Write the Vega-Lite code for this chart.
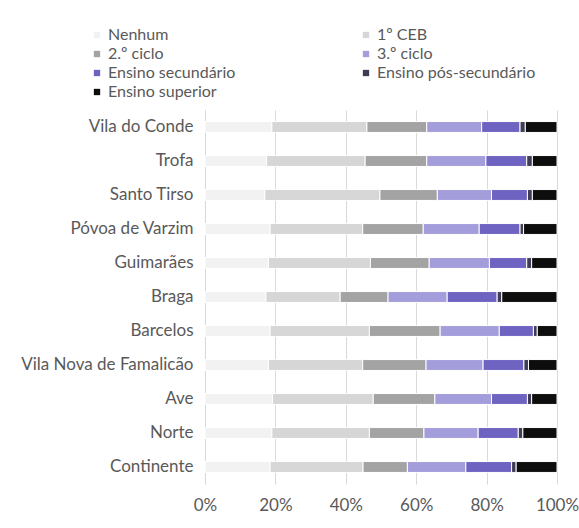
{
  "$schema": "https://vega.github.io/schema/vega-lite/v6.json",
  "width": 352,
  "height": 374,
  "autosize": {"type": "none"},
  "padding": {"left": 205, "top": 110, "right": 22, "bottom": 44},
  "background": "white",
  "config": {
    "view": {"stroke": null},
    "font": "Lato",
    "axis": {"labelFont": "Lato", "labelColor": "#595959", "labelFontSize": 17},
    "legend": {"labelFont": "Lato", "labelColor": "#595959", "labelFontSize": 16}
  },
  "data": {
    "values": [
      {"regiao": "Vila do Conde", "nivel": "Nenhum", "ordem": 1, "valor": 19.0},
      {"regiao": "Vila do Conde", "nivel": "1º CEB", "ordem": 2, "valor": 27.0},
      {"regiao": "Vila do Conde", "nivel": "2.º ciclo", "ordem": 3, "valor": 17.0},
      {"regiao": "Vila do Conde", "nivel": "3.º ciclo", "ordem": 4, "valor": 15.6},
      {"regiao": "Vila do Conde", "nivel": "Ensino secundário", "ordem": 5, "valor": 10.9},
      {"regiao": "Vila do Conde", "nivel": "Ensino pós-secundário", "ordem": 6, "valor": 1.5},
      {"regiao": "Vila do Conde", "nivel": "Ensino superior", "ordem": 7, "valor": 9.0},

      {"regiao": "Trofa", "nivel": "Nenhum", "ordem": 1, "valor": 17.5},
      {"regiao": "Trofa", "nivel": "1º CEB", "ordem": 2, "valor": 28.0},
      {"regiao": "Trofa", "nivel": "2.º ciclo", "ordem": 3, "valor": 17.5},
      {"regiao": "Trofa", "nivel": "3.º ciclo", "ordem": 4, "valor": 16.8},
      {"regiao": "Trofa", "nivel": "Ensino secundário", "ordem": 5, "valor": 11.6},
      {"regiao": "Trofa", "nivel": "Ensino pós-secundário", "ordem": 6, "valor": 1.6},
      {"regiao": "Trofa", "nivel": "Ensino superior", "ordem": 7, "valor": 7.0},

      {"regiao": "Santo Tirso", "nivel": "Nenhum", "ordem": 1, "valor": 17.0},
      {"regiao": "Santo Tirso", "nivel": "1º CEB", "ordem": 2, "valor": 32.7},
      {"regiao": "Santo Tirso", "nivel": "2.º ciclo", "ordem": 3, "valor": 16.3},
      {"regiao": "Santo Tirso", "nivel": "3.º ciclo", "ordem": 4, "valor": 15.4},
      {"regiao": "Santo Tirso", "nivel": "Ensino secundário", "ordem": 5, "valor": 10.2},
      {"regiao": "Santo Tirso", "nivel": "Ensino pós-secundário", "ordem": 6, "valor": 1.4},
      {"regiao": "Santo Tirso", "nivel": "Ensino superior", "ordem": 7, "valor": 7.0},

      {"regiao": "Póvoa de Varzim", "nivel": "Nenhum", "ordem": 1, "valor": 18.5},
      {"regiao": "Póvoa de Varzim", "nivel": "1º CEB", "ordem": 2, "valor": 26.3},
      {"regiao": "Póvoa de Varzim", "nivel": "2.º ciclo", "ordem": 3, "valor": 17.2},
      {"regiao": "Póvoa de Varzim", "nivel": "3.º ciclo", "ordem": 4, "valor": 15.9},
      {"regiao": "Póvoa de Varzim", "nivel": "Ensino secundário", "ordem": 5, "valor": 11.6},
      {"regiao": "Póvoa de Varzim", "nivel": "Ensino pós-secundário", "ordem": 6, "valor": 1.0},
      {"regiao": "Póvoa de Varzim", "nivel": "Ensino superior", "ordem": 7, "valor": 9.5},

      {"regiao": "Guimarães", "nivel": "Nenhum", "ordem": 1, "valor": 18.0},
      {"regiao": "Guimarães", "nivel": "1º CEB", "ordem": 2, "valor": 29.0},
      {"regiao": "Guimarães", "nivel": "2.º ciclo", "ordem": 3, "valor": 16.7},
      {"regiao": "Guimarães", "nivel": "3.º ciclo", "ordem": 4, "valor": 17.1},
      {"regiao": "Guimarães", "nivel": "Ensino secundário", "ordem": 5, "valor": 10.6},
      {"regiao": "Guimarães", "nivel": "Ensino pós-secundário", "ordem": 6, "valor": 1.4},
      {"regiao": "Guimarães", "nivel": "Ensino superior", "ordem": 7, "valor": 7.2},

      {"regiao": "Braga", "nivel": "Nenhum", "ordem": 1, "valor": 17.3},
      {"regiao": "Braga", "nivel": "1º CEB", "ordem": 2, "valor": 21.1},
      {"regiao": "Braga", "nivel": "2.º ciclo", "ordem": 3, "valor": 13.6},
      {"regiao": "Braga", "nivel": "3.º ciclo", "ordem": 4, "valor": 16.8},
      {"regiao": "Braga", "nivel": "Ensino secundário", "ordem": 5, "valor": 14.2},
      {"regiao": "Braga", "nivel": "Ensino pós-secundário", "ordem": 6, "valor": 1.3},
      {"regiao": "Braga", "nivel": "Ensino superior", "ordem": 7, "valor": 15.7},

      {"regiao": "Barcelos", "nivel": "Nenhum", "ordem": 1, "valor": 18.5},
      {"regiao": "Barcelos", "nivel": "1º CEB", "ordem": 2, "valor": 28.2},
      {"regiao": "Barcelos", "nivel": "2.º ciclo", "ordem": 3, "valor": 20.1},
      {"regiao": "Barcelos", "nivel": "3.º ciclo", "ordem": 4, "valor": 16.8},
      {"regiao": "Barcelos", "nivel": "Ensino secundário", "ordem": 5, "valor": 9.7},
      {"regiao": "Barcelos", "nivel": "Ensino pós-secundário", "ordem": 6, "valor": 1.1},
      {"regiao": "Barcelos", "nivel": "Ensino superior", "ordem": 7, "valor": 5.6},

      {"regiao": "Vila Nova de Famalicão", "nivel": "Nenhum", "ordem": 1, "valor": 18.0},
      {"regiao": "Vila Nova de Famalicão", "nivel": "1º CEB", "ordem": 2, "valor": 26.8},
      {"regiao": "Vila Nova de Famalicão", "nivel": "2.º ciclo", "ordem": 3, "valor": 18.0},
      {"regiao": "Vila Nova de Famalicão", "nivel": "3.º ciclo", "ordem": 4, "valor": 16.2},
      {"regiao": "Vila Nova de Famalicão", "nivel": "Ensino secundário", "ordem": 5, "valor": 11.6},
      {"regiao": "Vila Nova de Famalicão", "nivel": "Ensino pós-secundário", "ordem": 6, "valor": 1.3},
      {"regiao": "Vila Nova de Famalicão", "nivel": "Ensino superior", "ordem": 7, "valor": 8.1},

      {"regiao": "Ave", "nivel": "Nenhum", "ordem": 1, "valor": 19.2},
      {"regiao": "Ave", "nivel": "1º CEB", "ordem": 2, "valor": 28.6},
      {"regiao": "Ave", "nivel": "2.º ciclo", "ordem": 3, "valor": 17.5},
      {"regiao": "Ave", "nivel": "3.º ciclo", "ordem": 4, "valor": 16.1},
      {"regiao": "Ave", "nivel": "Ensino secundário", "ordem": 5, "valor": 10.2},
      {"regiao": "Ave", "nivel": "Ensino pós-secundário", "ordem": 6, "valor": 1.2},
      {"regiao": "Ave", "nivel": "Ensino superior", "ordem": 7, "valor": 7.2},

      {"regiao": "Norte", "nivel": "Nenhum", "ordem": 1, "valor": 19.0},
      {"regiao": "Norte", "nivel": "1º CEB", "ordem": 2, "valor": 27.7},
      {"regiao": "Norte", "nivel": "2.º ciclo", "ordem": 3, "valor": 15.5},
      {"regiao": "Norte", "nivel": "3.º ciclo", "ordem": 4, "valor": 15.4},
      {"regiao": "Norte", "nivel": "Ensino secundário", "ordem": 5, "valor": 11.4},
      {"regiao": "Norte", "nivel": "Ensino pós-secundário", "ordem": 6, "valor": 1.3},
      {"regiao": "Norte", "nivel": "Ensino superior", "ordem": 7, "valor": 9.7},

      {"regiao": "Continente", "nivel": "Nenhum", "ordem": 1, "valor": 18.5},
      {"regiao": "Continente", "nivel": "1º CEB", "ordem": 2, "valor": 26.4},
      {"regiao": "Continente", "nivel": "2.º ciclo", "ordem": 3, "valor": 12.6},
      {"regiao": "Continente", "nivel": "3.º ciclo", "ordem": 4, "valor": 16.6},
      {"regiao": "Continente", "nivel": "Ensino secundário", "ordem": 5, "valor": 13.0},
      {"regiao": "Continente", "nivel": "Ensino pós-secundário", "ordem": 6, "valor": 1.3},
      {"regiao": "Continente", "nivel": "Ensino superior", "ordem": 7, "valor": 11.6}
    ]
  },
  "mark": {"type": "bar", "stroke": "white", "strokeWidth": 1},
  "encoding": {
    "y": {
      "field": "regiao",
      "type": "nominal",
      "sort": ["Vila do Conde", "Trofa", "Santo Tirso", "Póvoa de Varzim", "Guimarães", "Braga", "Barcelos", "Vila Nova de Famalicão", "Ave", "Norte", "Continente"],
      "scale": {"paddingInner": 0.68, "paddingOuter": 0.34},
      "axis": {"title": null, "ticks": false, "labelPadding": 12, "domainColor": "#d9d9d9", "grid": false, "labelLimit": 220}
    },
    "x": {
      "field": "valor",
      "type": "quantitative",
      "stack": "normalize",
      "scale": {"domain": [0, 1], "nice": false},
      "axis": {"title": null, "format": ".0%", "values": [0, 0.2, 0.4, 0.6, 0.8, 1], "domain": false, "ticks": false, "labelPadding": 13, "grid": true, "gridColor": "#d9d9d9", "labelFlush": false}
    },
    "color": {
      "field": "nivel",
      "type": "nominal",
      "scale": {
        "domain": ["Nenhum", "2.º ciclo", "Ensino secundário", "Ensino superior", "1º CEB", "3.º ciclo", "Ensino pós-secundário"],
        "range": ["#f2f2f2", "#a3a3a3", "#6e63c0", "#0d0d0d", "#d6d6d6", "#a39ddb", "#3f3d56"]
      },
      "legend": {
        "title": null,
        "orient": "none",
        "legendX": -116,
        "legendY": -83,
        "columns": 2,
        "columnPadding": 122,
        "rowPadding": 3,
        "symbolType": "square",
        "symbolSize": 40,
        "symbolStrokeWidth": 0,
        "labelOffset": 3,
        "labelLimit": 260,
        "padding": 0
      }
    },
    "order": {"field": "ordem", "type": "quantitative"}
  }
}
